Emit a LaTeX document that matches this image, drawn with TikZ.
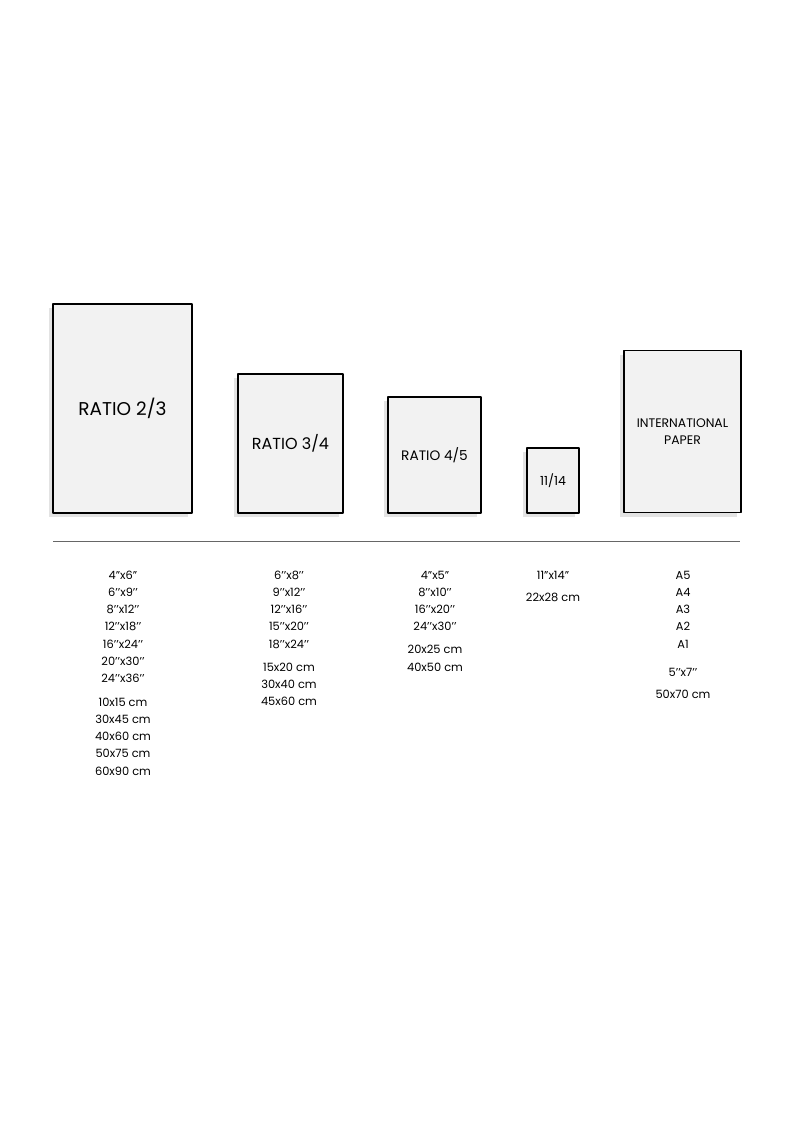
\documentclass[tikz,border=0pt]{standalone}
\usepackage{fontspec}
\setmainfont{Poppins}
\usetikzlibrary{shadows}
\begin{document}
\begin{tikzpicture}[x=1pt,y=-1pt,line join=round,
  paper/.style={draw=black,line width=1.7pt,fill=black!5,inner sep=0pt,align=center,
    drop shadow={shadow xshift=-4pt,shadow yshift=-4pt,fill=black!11,opacity=1}},
  size/.style={inner sep=0pt,text height=8pt,text depth=0pt,font=\fontsize{11.4}{13}\selectfont}]
                \def\rowh{17.3}
                \fill[white] (0,0) rectangle (794,1123);
                \useasboundingbox (0,0) rectangle (794,1123);
                \node[paper,minimum width=139pt,minimum height=209pt,font=\fontsize{18.5}{20}\selectfont] (r23) at (122.5,408.5) {RATIO 2/3};
                \node[paper,minimum width=105pt,minimum height=139pt,font=\fontsize{16}{18}\selectfont] (r34) at (290.5,443.5) {RATIO 3/4};
                \node[paper,minimum width=93pt,minimum height=116pt,font=\fontsize{13.7}{15}\selectfont] (r45) at (434.5,455) {RATIO 4/5};
                \node[paper,minimum width=52pt,minimum height=65pt,font=\fontsize{12.5}{14}\selectfont] (r1114) at (553,480.5) {11/14};
                \node[paper,minimum width=117pt,minimum height=162pt,font=\fontsize{12.4}{16.5}\selectfont] (intl) at (682.5,431.5) {INTERNATIONAL\\PAPER};
                \coordinate (lineL) at (53,541.5);
                \coordinate (lineR) at (740,541.5);
                \draw[black!60,line width=0.9pt] (lineL)--(lineR);
                \foreach \t [count=\i] in {4”x6”,6’’x9’’,8’’x12’’,12’’x18’’,16’’x24’’,20’’x30’’,24’’x36’’}
                    \node[size] (in23-\i) at (123,575+\rowh*\i-\rowh) {\t};
                \foreach \t [count=\i] in {10x15 cm,30x45 cm,40x60 cm,50x75 cm,60x90 cm}
                    \node[size] (cm23-\i) at (123,702.3+17.2*\i-17.2) {\t};
                \foreach \t [count=\i] in {6’’x8’’,9’’x12’’,12’’x16’’,15’’x20’’,18’’x24’’}
                    \node[size] (in34-\i) at (289,575+\rowh*\i-\rowh) {\t};
                \foreach \t [count=\i] in {15x20 cm,30x40 cm,45x60 cm}
                    \node[size] (cm34-\i) at (289,667+\rowh*\i-\rowh) {\t};
                \foreach \t [count=\i] in {4”x5”,8’’x10’’,16’’x20’’,24’’x30’’}
                    \node[size] (in45-\i) at (435,575+\rowh*\i-\rowh) {\t};
                \foreach \t [count=\i] in {20x25 cm,40x50 cm}
                    \node[size] (cm45-\i) at (435,649.7+\rowh*\i-\rowh) {\t};
                \node[size] (in1114) at (553,575) {11”x14”};
                \node[size] (cm1114) at (553,597) {22x28 cm};
                \foreach \t [count=\i] in {A5,A4,A3,A2,A1}
                    \node[size] (a-\i) at (683,575+\rowh*\i-\rowh) {\t};
                \node[size] (in57) at (683,672.5) {5’’x7’’};
                \node[size] (cm5070) at (683,694.5) {50x70 cm};
\end{tikzpicture}
\end{document}
